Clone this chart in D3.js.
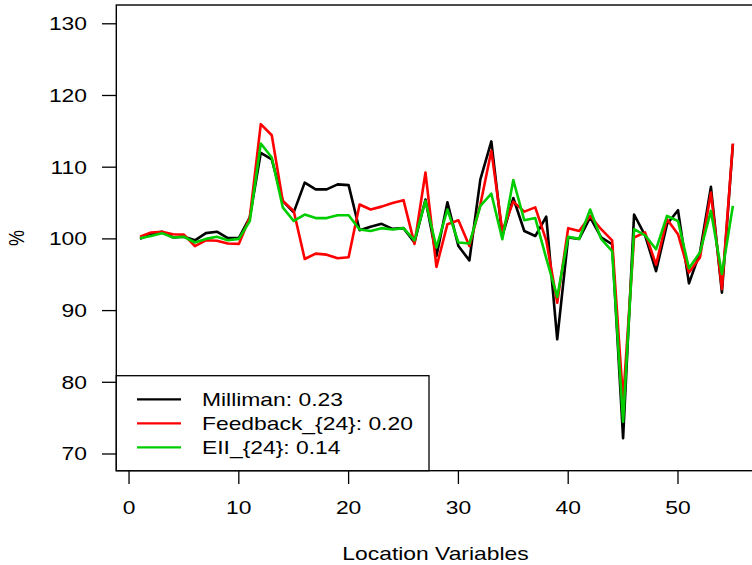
<!DOCTYPE html>
<html>
<head>
<meta charset="UTF-8">
<title>Location Variables</title>
<style>
body { margin: 0; background: #fff; }
text { font-family: "Liberation Sans", Arial, sans-serif; font-size: 18px; fill: #000; }
</style>
<script src="https://d3js.org/d3.v7.min.js"></script>
</head>
<body>
<div id="chart"></div>
<script>
// values, index 1..55
var milliman = [100.0,100.7,101.0,100.2,100.3,99.8,100.8,101.0,100.1,100.1,
  103.0,112.0,111.1,105.3,103.7,107.85,106.9,106.9,107.6,107.5,
  101.2,101.7,102.1,101.4,101.5,99.5,105.5,97.6,105.1,99.0,
  97.0,108.3,113.6,100.4,105.7,101.1,100.4,103.1,86.0,100.2,
  100.0,103.0,100.2,99.25,72.2,103.4,100.5,95.5,102.05,104.0,
  93.8,98.1,107.25,92.5,113.2];
var feedback = [100.3,100.9,101.0,100.65,100.6,99.0,99.8,99.75,99.35,99.3,
  103.0,116.0,114.45,105.3,103.9,97.2,97.95,97.8,97.3,97.45,
  104.8,104.1,104.5,105.0,105.4,99.3,109.25,96.1,102.05,102.6,
  99.0,104.8,112.3,101.1,105.2,103.8,104.4,99.8,91.1,101.5,
  101.1,103.2,101.35,99.8,77.5,100.2,100.9,96.4,102.75,100.65,
  95.3,97.4,106.45,93.0,113.3];
var eii = [100.1,100.4,100.8,100.2,100.3,99.5,100.0,100.3,99.8,100.0,
  102.5,113.3,111.35,104.4,102.5,103.4,102.9,102.9,103.3,103.3,
  101.3,101.1,101.5,101.3,101.5,99.8,105.3,98.8,104.1,99.5,
  99.35,104.6,106.3,99.95,108.2,102.6,102.9,97.3,91.9,100.3,
  100.0,104.1,100.0,98.3,74.5,101.35,100.5,98.55,103.2,102.5,
  95.9,98.1,103.9,95.1,104.6];

var seriesNames = ["Milliman: 0.23", "Feedback_{24}: 0.20", "EII_{24}: 0.14"];
var seriesColors = ["#000000", "#ff0000", "#00cd00"];
var xTicks = [0, 10, 20, 30, 40, 50];
var yTicks = [70, 80, 90, 100, 110, 120, 130];

var width = 752, height = 565;
var sx = 1.27; // text in the picture is stretched sideways

var svg = d3.select("#chart").append("svg")
  .attr("width", width)
  .attr("height", height);
svg.append("rect").attr("width", width).attr("height", height).attr("fill", "#fff");

var x = d3.scaleLinear().domain([-1.16, 57.16]).range([116.3, 756.6]);
var y = d3.scaleLinear().domain([67.67, 132.62]).range([470.7, 5]);

function label(g, tx, ty, txt, anchor, rot) {
  return g.append("text")
    .attr("transform", "translate(" + tx + "," + ty + ") scale(" + sx + ",1)" + (rot ? " rotate(" + rot + ")" : ""))
    .attr("text-anchor", anchor)
    .text(txt);
}

// lines
var line = d3.line()
  .x(function(d, i) { return x(i + 1); })
  .y(function(d) { return y(d); });

[milliman, feedback, eii].forEach(function(s, k) {
  svg.append("path")
    .datum(s)
    .attr("fill", "none")
    .attr("stroke", seriesColors[k])
    .attr("stroke-width", 2.6)
    .attr("stroke-linejoin", "round")
    .attr("d", line);
});

// x axis
var gx = svg.append("g");
xTicks.forEach(function(t) {
  gx.append("line").attr("x1", x(t)).attr("x2", x(t)).attr("y1", 470.7).attr("y2", 484)
    .attr("stroke", "#000").attr("stroke-width", 1.3);
  label(gx, x(t), 514, t, "middle");
});

// y axis
var gy = svg.append("g");
yTicks.forEach(function(t) {
  gy.append("line").attr("x1", 102).attr("x2", 116.3).attr("y1", y(t)).attr("y2", y(t))
    .attr("stroke", "#000").attr("stroke-width", 1.3);
  label(gy, 87, y(t) + 6.5, t, "end");
});

// box
svg.append("rect")
  .attr("x", 116.3).attr("y", 5)
  .attr("width", 756.6 - 116.3).attr("height", 470.7 - 5)
  .attr("fill", "none").attr("stroke", "#000").attr("stroke-width", 1.4);

// axis titles
label(svg, 435.5, 560, "Location Variables", "middle");
label(svg, 24, 238, "%", "middle", -90);

// legend
var lg = svg.append("g");
lg.append("rect")
  .attr("x", 116.3).attr("y", 375.7)
  .attr("width", 429 - 116.3).attr("height", 470.7 - 375.7)
  .attr("fill", "#fff").attr("stroke", "#000").attr("stroke-width", 1.3);
seriesNames.forEach(function(n, k) {
  var ly = 399.3 + k * 24;
  lg.append("line").attr("x1", 137).attr("x2", 181).attr("y1", ly).attr("y2", ly)
    .attr("stroke", seriesColors[k]).attr("stroke-width", 2.2);
  label(lg, 202, ly + 7, n, "start");
});
</script>
</body>
</html>
